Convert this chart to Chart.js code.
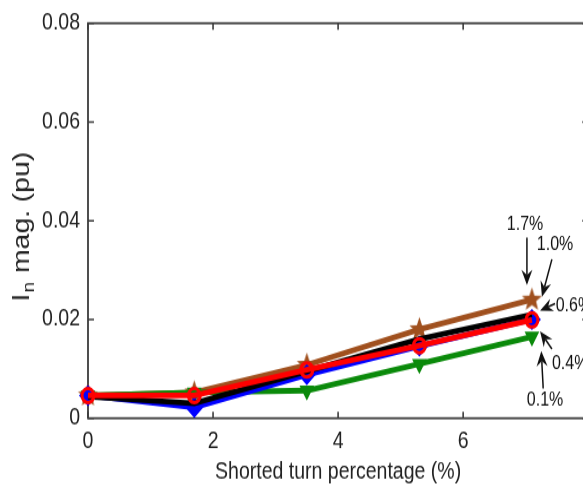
<!DOCTYPE html>
<html><head><meta charset="utf-8">
<script src="https://cdn.jsdelivr.net/npm/chart.js@4/dist/chart.umd.min.js"></script>
<style>
html,body{margin:0;padding:0;background:#fff;overflow:hidden;width:583px;height:494px;}
#wrap{position:absolute;left:0;top:0;width:603px;height:419px;transform-origin:0 0;transform:scaleY(1.179);}
canvas{display:block;}
</style></head><body>
<div id="wrap"><canvas id="c" width="603" height="419"></canvas></div>
<script>
// ---- data ----
const shortedTurnPct = [0, 1.7, 3.5, 5.3, 7.1];
const fault17 = [0.0046, 0.0052, 0.0108, 0.0180, 0.0240];
const fault10 = [0.0044, 0.0030, 0.0095, 0.0160, 0.0210];
const fault06 = [0.0046, 0.0022, 0.0088, 0.0146, 0.0200];
const fault04 = [0.0046, 0.0046, 0.0098, 0.0147, 0.0199];
const fault01 = [0.0046, 0.0052, 0.0056, 0.0110, 0.0165];
const xTicks = [0, 2, 4, 6, 8];
const yTicks = [0, 0.02, 0.04, 0.06, 0.08];
// annotation labels: text anchor and arrow tail/tip, in data units
const noteLabels = ['1.7%', '1.0%', '0.6%', '0.4%', '0.1%'];
const noteTextX = [6.99, 7.47, 7.48, 7.42, 7.31];
const noteTextY = [0.0392, 0.0352, 0.0226, 0.0110, 0.0036];
const noteTailX = [7.02, 7.42, 7.47, 7.42, 7.28];
const noteTailY = [0.0366, 0.0322, 0.0232, 0.0140, 0.0060];
const noteTipX  = [7.02, 7.26, 7.23, 7.23, 7.25];
const noteTipY  = [0.0270, 0.0246, 0.0218, 0.0176, 0.0136];

const FONT = '"Liberation Sans", Arial, Helvetica, sans-serif';

function pts(ys){ return shortedTurnPct.map((x,i)=>({x, y: ys[i]})); }

function starCanvas(color, r){
  const c = document.createElement('canvas');
  const s = Math.ceil(2*r+2);
  c.width = s; c.height = s;
  const g = c.getContext('2d');
  g.beginPath();
  for (let i=0;i<10;i++){
    const ang = -Math.PI/2 + i*Math.PI/5;
    const rr = i%2===0 ? r : r*0.42;
    const px = s/2 + rr*Math.cos(ang), py = s/2 + rr*Math.sin(ang);
    if(i===0) g.moveTo(px,py); else g.lineTo(px,py);
  }
  g.closePath();
  g.fillStyle = color; g.fill();
  return c;
}

const BROWN = '#a0501e', GREEN = '#0a8a0a';

const framePlugin = {
  id: 'frame',
  beforeDatasetsDraw(chart){
    const {ctx, chartArea:a, scales:{x, y}} = chart;
    ctx.save();
    ctx.strokeStyle = '#3c3c3c';
    ctx.lineWidth = 1.8;
    ctx.strokeRect(a.left, a.top, a.right-a.left, a.bottom-a.top);
    ctx.lineWidth = 1.6;
    ctx.beginPath();
    xTicks.forEach(v=>{
      const px = x.getPixelForValue(v);
      ctx.moveTo(px, a.bottom); ctx.lineTo(px, a.bottom-5.5);
      ctx.moveTo(px, a.top); ctx.lineTo(px, a.top+5.5);
    });
    yTicks.forEach(v=>{
      const py = y.getPixelForValue(v);
      ctx.moveTo(a.left, py); ctx.lineTo(a.left+6, py);
      ctx.moveTo(a.right, py); ctx.lineTo(a.right-6, py);
    });
    ctx.stroke();
    ctx.restore();
  },
  afterDraw(chart){
    const {ctx, chartArea:a, scales:{x, y}} = chart;
    ctx.save();
    // y-axis title with subscript
    const main = 'I', sub = 'n', rest = ' mag. (pu)';
    const big = '24px ' + FONT, small = '16px ' + FONT;
    ctx.font = big;
    const wI = ctx.measureText(main).width;
    const wR = ctx.measureText(rest).width;
    ctx.font = small;
    const wS = ctx.measureText(sub).width + 2;
    const total = wI + wS + wR;
    ctx.translate(22, (a.top+a.bottom)/2 + 5);
    ctx.rotate(-Math.PI/2);
    ctx.fillStyle = '#222';
    ctx.textBaseline = 'middle';
    ctx.textAlign = 'left';
    let cx = -total/2;
    ctx.font = big; ctx.fillText(main, cx, 0); cx += wI + 1;
    ctx.font = small; ctx.fillText(sub, cx, 8); cx += wS - 1;
    ctx.font = big; ctx.fillText(rest, cx, 0);
    ctx.restore();

    // arrows and labels
    ctx.save();
    ctx.fillStyle = '#111'; ctx.strokeStyle = '#111';
    ctx.font = '16px ' + FONT;
    ctx.textBaseline = 'middle';
    noteLabels.forEach((t,i)=>{
      const tx = x.getPixelForValue(noteTextX[i]), ty = y.getPixelForValue(noteTextY[i]);
      ctx.textAlign = (i===2||i===3) ? 'left' : 'center';
      ctx.fillText(t, tx, ty);
      const x0 = x.getPixelForValue(noteTailX[i]), y0 = y.getPixelForValue(noteTailY[i]);
      const x1 = x.getPixelForValue(noteTipX[i]), y1 = y.getPixelForValue(noteTipY[i]);
      const ang = Math.atan2(y1-y0, x1-x0);
      const L = 13, W = 5.5, N = 8.5;
      ctx.lineWidth = 1.5;
      ctx.beginPath(); ctx.moveTo(x0,y0);
      ctx.lineTo(x1 - Math.cos(ang)*N, y1 - Math.sin(ang)*N); ctx.stroke();
      ctx.beginPath();
      ctx.moveTo(x1, y1);
      ctx.lineTo(x1 - Math.cos(ang)*L - Math.sin(ang)*W, y1 - Math.sin(ang)*L + Math.cos(ang)*W);
      ctx.lineTo(x1 - Math.cos(ang)*N, y1 - Math.sin(ang)*N);
      ctx.lineTo(x1 - Math.cos(ang)*L + Math.sin(ang)*W, y1 - Math.sin(ang)*L - Math.cos(ang)*W);
      ctx.closePath(); ctx.fill();
    });
    ctx.restore();
  }
};

const common = { showLine: true, borderWidth: 4.8, clip: false, tension: 0, pointHoverRadius: 0 };

new Chart(document.getElementById('c'), {
  type: 'scatter',
  data: {
    datasets: [
      Object.assign({}, common, { label: '0.4%', data: pts(fault04), borderColor: '#ff0000',
        pointStyle: 'circle', pointRadius: 6, pointBorderWidth: 3, pointBorderColor: '#ff0000',
        pointBackgroundColor: 'rgba(0,0,0,0)' }),
      Object.assign({}, common, { label: '1.0%', data: pts(fault10), borderColor: '#000000',
        pointRadius: 0 }),
      Object.assign({}, common, { label: '0.6%', data: pts(fault06), borderColor: '#0000ff',
        pointStyle: 'rectRot', pointRadius: 9, pointBorderWidth: 0, pointBackgroundColor: '#0000ff' }),
      Object.assign({}, common, { label: '0.1%', data: pts(fault01), borderColor: GREEN,
        pointStyle: 'triangle', pointRotation: 180, pointRadius: 8.5, pointBorderWidth: 0, pointBackgroundColor: GREEN }),
      Object.assign({}, common, { label: '1.7%', data: pts(fault17), borderColor: BROWN,
        pointStyle: starCanvas(BROWN, 10.5), pointRadius: 10 })
    ]
  },
  options: {
    responsive: false,
    animation: false,
    devicePixelRatio: 1,
    layout: { padding: { left: 0, right: 10, top: 13.3, bottom: 0 } },
    plugins: { legend: { display: false }, tooltip: { enabled: false } },
    scales: {
      x: {
        type: 'linear', min: 0, max: 8,
        afterBuildTicks: s => { s.ticks = xTicks.map(v => ({ value: v })); },
        afterFit: s => { s.height = 419 - 354.7; },
        ticks: { font: { family: FONT, size: 19.5 }, color: '#222', padding: 8, maxRotation: 0 },
        grid: { display: false, drawTicks: false },
        border: { display: false },
        title: { display: true, text: 'Shorted turn percentage (%)', font: { family: FONT, size: 19.5 },
          color: '#222', padding: { top: 0, bottom: 7 } }
      },
      y: {
        type: 'linear', min: 0, max: 0.08,
        afterBuildTicks: s => { s.ticks = yTicks.map(v => ({ value: v })); },
        afterFit: s => { s.width = 88; },
        ticks: { font: { family: FONT, size: 19.5 }, color: '#222', padding: 8,
          callback: v => v === 0 ? '0' : v.toFixed(2) },
        grid: { display: false, drawTicks: false },
        border: { display: false }
      }
    }
  },
  plugins: [framePlugin]
});
</script>
</body></html>
